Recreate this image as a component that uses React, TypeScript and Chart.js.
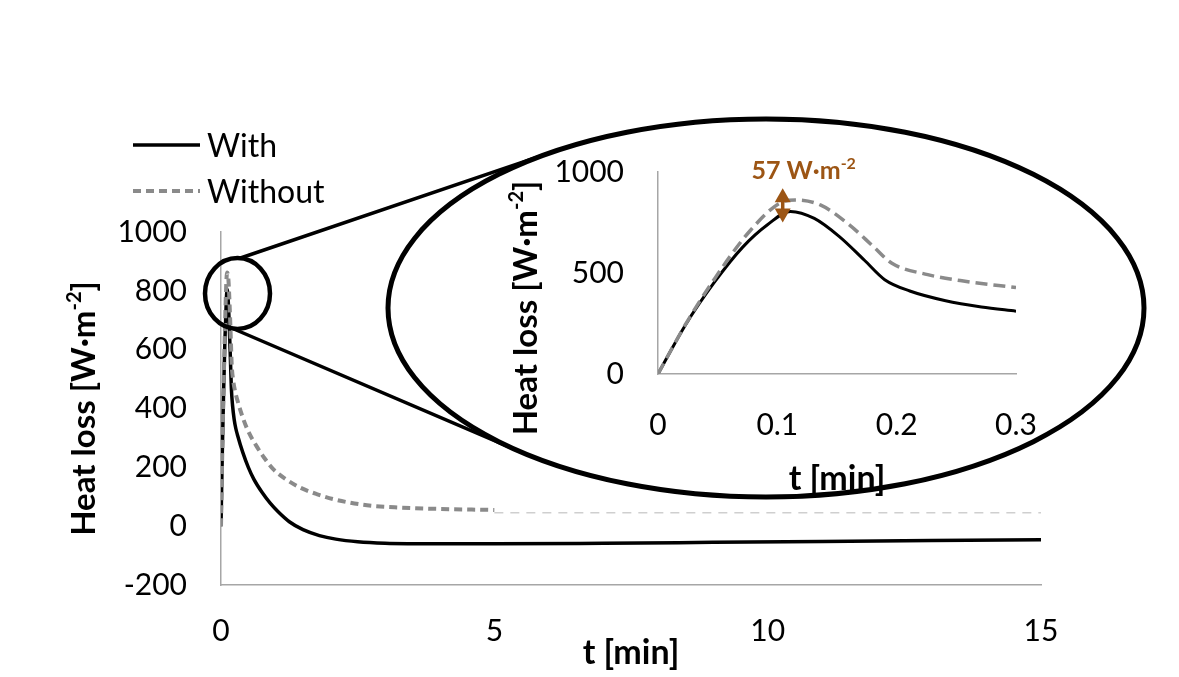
import React, { useEffect, useRef } from "react";
import { Chart, registerables } from "chart.js";

Chart.register(...registerables);

const FONT = "Lato, 'Noto Sans', 'DejaVu Sans', sans-serif";

// ---- data (t in minutes, heat loss in W·m-2) ----
// early phase, shown in the zoomed inset
const withEarlyT = [0, 0.023, 0.047, 0.071, 0.092, 0.111, 0.131, 0.152, 0.173, 0.19, 0.211, 0.241, 0.271, 0.3];
const withEarlyV = [0, 243, 452, 628, 740, 805, 770, 680, 563, 467, 411, 363, 332, 311];
const withoutEarlyT = [0, 0.023, 0.047, 0.077, 0.104, 0.115, 0.136, 0.16, 0.181, 0.196, 0.226, 0.256, 0.3];
const withoutEarlyV = [0, 245, 468, 708, 852, 862, 837, 740, 628, 548, 492, 460, 428];
// later phase
const withLateT = [0.4, 0.5, 0.6, 0.75, 0.9, 1.05, 1.25, 1.5, 1.8, 2.1, 2.5, 3, 4, 5, 7, 9, 11, 13, 15];
const withLateV = [250, 200, 160, 115, 78, 48, 15, -12, -32, -44, -53, -58, -60, -60, -58, -55, -52, -49, -46];
const withoutLateT = [0.41, 0.5, 0.65, 0.8, 0.96, 1.2, 1.45, 1.75, 2.05, 2.67, 3.3, 3.9, 5];
const withoutLateV = [363, 322, 272, 230, 193, 158, 131, 109, 92, 71, 63, 59, 55];
const withoutTailT = [5, 15];
const withoutTailV = [46, 46];

// ---- ticks ----
const mainXTicks = [0, 5, 10, 15];
const mainYTicks = [-200, 0, 200, 400, 600, 800, 1000];
const insetXTicks = [0, 0.1, 0.2, 0.3];
const insetYTicks = [0, 500, 1000];

// ---- annotation ----
const peakLabel = "57 W·m";
const peakLabelSup = "-2";
const arrowT = 0.1045;
const arrowFrom = 750;
const arrowTo = 920;

const zip = (xs: number[], ys: number[]) => xs.map((x, i) => ({ x, y: ys[i] }));

type Seg = { text: string; sup?: boolean };
function drawRich(ctx: CanvasRenderingContext2D, segs: Seg[], cx: number, cy: number, size: number, bold: boolean, color: string, rotate: boolean) {
  const setFont = (s: Seg) => {
    ctx.font = `${bold ? "bold " : ""}${s.sup ? Math.round(size * 0.62) : size}px ${FONT}`;
  };
  let total = 0;
  for (const s of segs) { setFont(s); total += ctx.measureText(s.text).width; }
  ctx.save();
  ctx.translate(cx, cy);
  if (rotate) ctx.rotate(-Math.PI / 2);
  ctx.fillStyle = color;
  ctx.textAlign = "left";
  ctx.textBaseline = "alphabetic";
  let x = -total / 2;
  const base = size * 0.35;
  for (const s of segs) {
    setFont(s);
    ctx.fillText(s.text, x, s.sup ? base - size * 0.4 : base);
    x += ctx.measureText(s.text).width;
  }
  ctx.restore();
}

function tangentPoint(px: number, py: number, cx: number, cy: number, rx: number, ry: number, upper: boolean) {
  const ux = (px - cx) / rx, uy = (py - cy) / ry;
  const d = Math.hypot(ux, uy);
  const phi = Math.atan2(uy, ux);
  const a = Math.acos(1 / d);
  const p1 = [cx + rx * Math.cos(phi + a), cy + ry * Math.sin(phi + a)];
  const p2 = [cx + rx * Math.cos(phi - a), cy + ry * Math.sin(phi - a)];
  if (upper) return p1[1] < p2[1] ? p1 : p2;
  return p1[1] > p2[1] ? p1 : p2;
}

const ELL = { cx: 766, cy: 308, rx: 378, ry: 189 };
const CIR = { cx: 237.5, cy: 293.5, rx: 32.5, ry: 35.5 };

const mainDecor = {
  id: "mainDecor",
  afterDraw(chart: any) {
    const ctx: CanvasRenderingContext2D = chart.ctx;
    const area = chart.chartArea;
    ctx.save();
    // connector lines from zoom circle to ellipse
    ctx.strokeStyle = "#000";
    ctx.lineWidth = 3.5;
    ctx.lineCap = "round";
    const up0 = [CIR.cx + 3, CIR.cy - CIR.ry];
    const lo0 = [CIR.cx - 6, CIR.cy + CIR.ry - 1];
    const up1 = tangentPoint(up0[0], up0[1], ELL.cx, ELL.cy, ELL.rx, ELL.ry, true);
    const lo1 = tangentPoint(lo0[0], lo0[1], ELL.cx, ELL.cy, ELL.rx, ELL.ry, false);
    ctx.beginPath();
    ctx.moveTo(up0[0], up0[1]); ctx.lineTo(up1[0], up1[1]);
    ctx.moveTo(lo0[0], lo0[1]); ctx.lineTo(lo1[0], lo1[1]);
    ctx.stroke();
    // big ellipse
    ctx.beginPath();
    ctx.ellipse(ELL.cx, ELL.cy, ELL.rx, ELL.ry, 0, 0, Math.PI * 2);
    ctx.fillStyle = "#fff";
    ctx.fill();
    ctx.lineWidth = 5;
    ctx.stroke();
    // small circle
    ctx.beginPath();
    ctx.ellipse(CIR.cx, CIR.cy, CIR.rx, CIR.ry, 0, 0, Math.PI * 2);
    ctx.lineWidth = 4.5;
    ctx.stroke();
    // legend
    const ds = chart.data.datasets;
    const items = [ds[0], ds[1]];
    items.forEach((d: any, i: number) => {
      const y = 145 + i * 46;
      ctx.beginPath();
      ctx.strokeStyle = d.borderColor;
      ctx.lineWidth = d.borderWidth;
      ctx.lineCap = "butt";
      ctx.setLineDash(d.borderDash || []);
      ctx.moveTo(133, y);
      ctx.lineTo(200, y);
      ctx.stroke();
      ctx.setLineDash([]);
      ctx.fillStyle = "#000";
      ctx.font = `32px ${FONT}`;
      ctx.textAlign = "left";
      ctx.textBaseline = "middle";
      ctx.fillText(d.label, 207, y + 2);
    });
    ctx.restore();
    // axis titles
    drawRich(ctx, [{ text: "t [min]" }], (area.left + area.right) / 2, area.bottom + 67, 34, true, "#000", false);
    drawRich(ctx, [{ text: "Heat loss [W·m" }, { text: "-2", sup: true }, { text: "]" }], area.left - 138, (area.top + area.bottom) / 2, 33, true, "#000", true);
  },
};

const insetDecor = {
  id: "insetDecor",
  afterDraw(chart: any) {
    const ctx: CanvasRenderingContext2D = chart.ctx;
    const area = chart.chartArea;
    const xs = chart.scales.x, ys = chart.scales.y;
    drawRich(ctx, [{ text: "t [min]" }], (area.left + area.right) / 2, area.bottom + 104, 34, true, "#000", false);
    drawRich(ctx, [{ text: "Heat loss [W·m" }, { text: "-2", sup: true }, { text: "]" }], area.left - 133, (area.top + area.bottom) / 2 + 35, 33, true, "#000", true);
    // peak difference annotation
    const brown = "#9C5514";
    const ax = xs.getPixelForValue(arrowT);
    const yTop = ys.getPixelForValue(arrowTo);
    const yBot = ys.getPixelForValue(arrowFrom);
    ctx.save();
    ctx.strokeStyle = brown;
    ctx.fillStyle = brown;
    ctx.lineWidth = 3.5;
    const hl = 14, hw = 8;
    ctx.beginPath();
    ctx.moveTo(ax, yTop + hl - 1);
    ctx.lineTo(ax, yBot - hl + 1);
    ctx.stroke();
    ctx.beginPath();
    ctx.moveTo(ax, yTop); ctx.lineTo(ax - hw, yTop + hl); ctx.lineTo(ax + hw, yTop + hl); ctx.closePath();
    ctx.fill();
    ctx.beginPath();
    ctx.moveTo(ax, yBot); ctx.lineTo(ax - hw, yBot - hl); ctx.lineTo(ax + hw, yBot - hl); ctx.closePath();
    ctx.fill();
    ctx.restore();
    drawRich(ctx, [{ text: peakLabel }, { text: peakLabelSup, sup: true }], ax + 21, yTop - 18, 25, true, brown, false);
  },
};

const axisBorder = { display: true, color: "#a6a6a6", width: 1.5 };
const tickFont = { family: FONT, size: 30 };

export default function App() {
  const mainRef = useRef<HTMLCanvasElement>(null);
  const insetRef = useRef<HTMLCanvasElement>(null);

  useEffect(() => {
    const mainChart = new Chart(mainRef.current as HTMLCanvasElement, {
      type: "line",
      data: {
        datasets: [
          {
            label: "With",
            data: zip([...withEarlyT, ...withLateT], [...withEarlyV, ...withLateV]),
            borderColor: "#000000",
            borderWidth: 3.5,
            pointRadius: 0,
            cubicInterpolationMode: "monotone",
            order: 1,
          },
          {
            label: "Without",
            data: zip([...withoutEarlyT, ...withoutLateT], [...withoutEarlyV, ...withoutLateV]),
            borderColor: "#8a8a8a",
            borderWidth: 4,
            borderDash: [8, 5],
            pointRadius: 0,
            cubicInterpolationMode: "monotone",
            order: 0,
          },
          {
            label: "Without (continued)",
            data: zip(withoutTailT, withoutTailV),
            borderColor: "#cfcfcf",
            borderWidth: 1.5,
            borderDash: [9, 7],
            pointRadius: 0,
            order: 2,
          },
        ],
      },
      options: {
        responsive: false,
        animation: false,
        events: [],
        layout: { padding: { top: 232, right: 138, left: 0, bottom: 0 } },
        plugins: { legend: { display: false }, tooltip: { enabled: false } },
        scales: {
          x: {
            type: "linear",
            min: 0,
            max: 15,
            afterBuildTicks: (s: any) => { s.ticks = mainXTicks.map((v) => ({ value: v })); },
            afterFit: (s: any) => { s.height = 92; },
            grid: { display: false, drawTicks: false },
            border: axisBorder,
            ticks: { font: tickFont, color: "#000", padding: 28, maxRotation: 0, callback: (v: any) => String(v) },
          },
          y: {
            type: "linear",
            min: -200,
            max: 1000,
            afterBuildTicks: (s: any) => { s.ticks = mainYTicks.map((v) => ({ value: v })); },
            afterFit: (s: any) => { s.width = 221; },
            grid: { display: false, drawTicks: false },
            border: axisBorder,
            ticks: { font: tickFont, color: "#000", padding: 34, callback: (v: any) => String(v) },
          },
        },
      } as any,
      plugins: [mainDecor],
    });

    const insetChart = new Chart(insetRef.current as HTMLCanvasElement, {
      type: "line",
      data: {
        datasets: [
          {
            label: "With",
            data: zip(withEarlyT, withEarlyV),
            borderColor: "#000000",
            borderWidth: 3,
            pointRadius: 0,
            cubicInterpolationMode: "monotone",
            order: 1,
          },
          {
            label: "Without",
            data: zip(withoutEarlyT, withoutEarlyV),
            borderColor: "#8a8a8a",
            borderWidth: 3.5,
            borderDash: [12, 6],
            pointRadius: 0,
            cubicInterpolationMode: "monotone",
            order: 0,
          },
        ],
      },
      options: {
        responsive: false,
        animation: false,
        events: [],
        layout: { padding: { top: 47, right: 64, left: 0, bottom: 0 } },
        plugins: { legend: { display: false }, tooltip: { enabled: false } },
        scales: {
          x: {
            type: "linear",
            min: 0,
            max: 0.3,
            afterBuildTicks: (s: any) => { s.ticks = insetXTicks.map((v) => ({ value: v })); },
            afterFit: (s: any) => { s.height = 136; },
            grid: { display: false, drawTicks: false },
            border: axisBorder,
            ticks: { font: tickFont, color: "#000", padding: 33, maxRotation: 0, callback: (v: any) => String(Math.round(v * 10) / 10) },
          },
          y: {
            type: "linear",
            min: 0,
            max: 1000,
            afterBuildTicks: (s: any) => { s.ticks = insetYTicks.map((v) => ({ value: v })); },
            afterFit: (s: any) => { s.width = 178; },
            grid: { display: false, drawTicks: false },
            border: axisBorder,
            ticks: { font: tickFont, color: "#000", padding: 34, callback: (v: any) => String(v) },
          },
        },
      } as any,
      plugins: [insetDecor],
    });

    return () => {
      mainChart.destroy();
      insetChart.destroy();
    };
  }, []);

  return (
    <div style={{ position: "absolute", left: 0, top: 0, width: 1179, height: 677, background: "#fff", overflow: "hidden" }}>
      <canvas ref={mainRef} width={1179} height={677} style={{ position: "absolute", left: 0, top: 0, width: 1179, height: 677 }} />
      <canvas ref={insetRef} width={600} height={390} style={{ position: "absolute", left: 480, top: 120, width: 600, height: 390 }} />
    </div>
  );
}
